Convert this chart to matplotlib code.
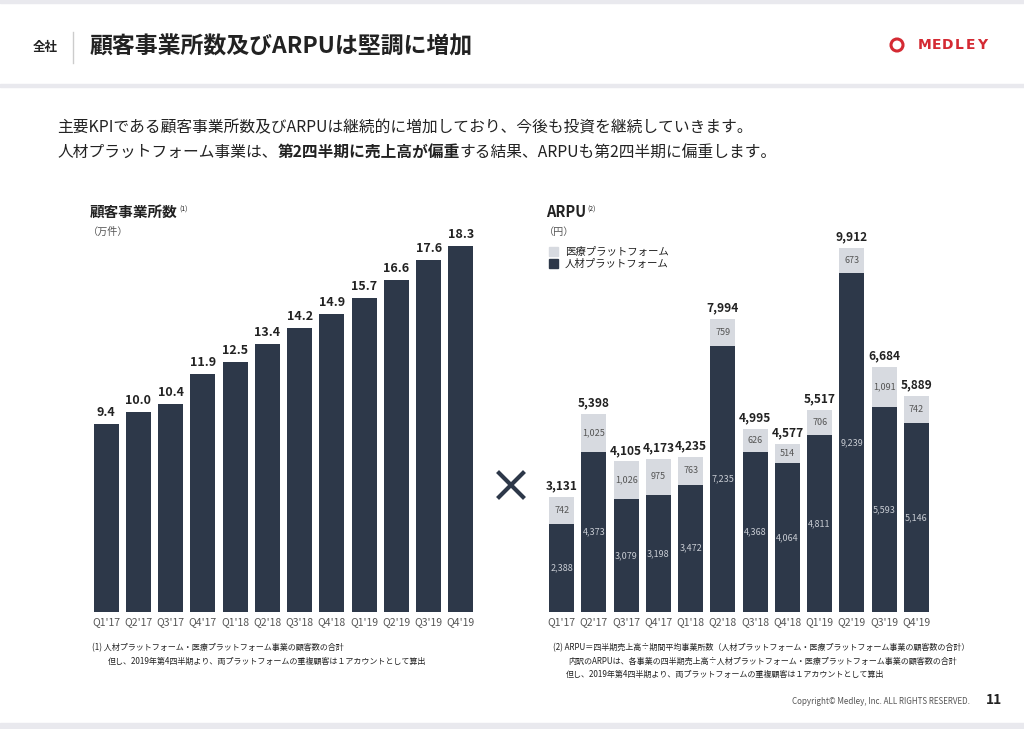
import numpy as np
import matplotlib
matplotlib.use("Agg")
import matplotlib.pyplot as plt
from matplotlib.patches import Rectangle, Ellipse
from matplotlib.lines import Line2D

plt.rcParams['font.family'] = ['Noto Sans CJK JP', 'DejaVu Sans']

# データ
quarters = ["Q1'17", "Q2'17", "Q3'17", "Q4'17", "Q1'18", "Q2'18",
            "Q3'18", "Q4'18", "Q1'19", "Q2'19", "Q3'19", "Q4'19"]
offices = [9.4, 10.0, 10.4, 11.9, 12.5, 13.4, 14.2, 14.9, 15.7, 16.6, 17.6, 18.3]  # 万件
arpu_jinzai = [2388, 4373, 3079, 3198, 3472, 7235, 4368, 4064, 4811, 9239, 5593, 5146]
arpu_iryo = [742, 1025, 1026, 975, 763, 759, 626, 514, 706, 673, 1091, 742]
arpu_total = [3131, 5398, 4105, 4173, 4235, 7994, 4995, 4577, 5517, 9912, 6684, 5889]

navy = '#2d3849'
light = '#d7dae0'
txt = '#222222'
gray_txt = '#555555'
red = '#d42a33'

W, H = 1024, 729
fx = lambda x: x / W
fy = lambda y: 1 - y / H

fig = plt.figure(figsize=(10.24, 7.29), dpi=100)
fig.patch.set_facecolor('white')

# 枠・帯
fig.patches.append(Rectangle((0, fy(3)), 1, 3 / H, transform=fig.transFigure, color='#e9e9ee', zorder=0))
fig.patches.append(Rectangle((0, fy(87)), 1, 3 / H, transform=fig.transFigure, color='#e9e9ee', zorder=0))
fig.patches.append(Rectangle((0, 0), 1, 6 / H, transform=fig.transFigure, color='#e9e9ee', zorder=0))

# ヘッダー
fig.text(fx(33), fy(47), "全社", fontsize=9, fontweight='bold', color=txt, va='center')
fig.add_artist(Line2D([fx(73), fx(73)], [fy(32), fy(63)], color='#cccccc', lw=1))
fig.text(fx(90), fy(47), "顧客事業所数及びARPUは堅調に増加", fontsize=16.5, fontweight='bold',
         color=txt, va='center')
fig.add_artist(Ellipse((fx(897), fy(45)), 12 / W, 12 / H, transform=fig.transFigure,
                       fill=False, edgecolor=red, lw=2.2))
for i, ch in enumerate("MEDLEY"):
    fig.text(fx(925 + i * 11.4), fy(45), ch, fontsize=10, fontweight='bold', color=red,
             ha='center', va='center', family='DejaVu Sans')

# 本文
fig.text(fx(57), fy(128), "主要KPIである顧客事業所数及びARPUは継続的に増加しており、今後も投資を継続していきます。",
         fontsize=11.3, color=txt, va='center')
t1 = fig.text(fx(57), fy(152), "人材プラットフォーム事業は、", fontsize=11.3, color=txt, va='center')
t2 = fig.text(0, 0, "第2四半期に売上高が偏重", fontsize=11.3, fontweight='bold', color=txt)
t3 = fig.text(0, 0, "する結果、ARPUも第2四半期に偏重します。", fontsize=11.3, color=txt)
fig.canvas.draw()
r = fig.canvas.get_renderer()
bb = t1.get_window_extent(r)
t2.set_position((bb.x1 / W, fy(152)))
t2.set_va('center')
bb2 = t2.get_window_extent(r)
t3.set_position((bb2.x1 / W, fy(152)))
t3.set_va('center')

# 左グラフ
ax1 = fig.add_axes([fx(90), fy(612), 387 / W, 400 / H])
x = np.arange(len(quarters))
ax1.bar(x, offices, width=0.78, color=navy)
for xi, v in zip(x, offices):
    ax1.text(xi, v + 0.25, f"{v:.1f}", ha='center', va='bottom', fontsize=9,
             fontweight='bold', color=txt)
ax1.set_ylim(0, 20)
ax1.set_xlim(-0.5, 11.5)

# 右グラフ
ax2 = fig.add_axes([fx(545.5), fy(612), 387 / W, 400 / H])
ax2.bar(x, arpu_jinzai, width=0.78, color=navy)
ax2.bar(x, arpu_iryo, width=0.78, bottom=arpu_jinzai, color=light)
for xi, a, b, t in zip(x, arpu_jinzai, arpu_iryo, arpu_total):
    ax2.text(xi, a / 2, f"{a:,}", ha='center', va='center', fontsize=6.5, color='#c8ccd3')
    ax2.text(xi, a + b / 2, f"{b:,}", ha='center', va='center', fontsize=6.5, color=gray_txt)
    ax2.text(xi, a + b + 120, f"{t:,}", ha='center', va='bottom', fontsize=8.6,
             fontweight='bold', color=txt)
ax2.set_ylim(0, 400 / 0.0367)
ax2.set_xlim(-0.5, 11.5)

for ax in (ax1, ax2):
    ax.set_xticks(x)
    ax.set_xticklabels(quarters, fontsize=7.5, color=gray_txt)
    ax.tick_params(axis='x', length=0, pad=4)
    ax.set_yticks([])
    for s in ax.spines.values():
        s.set_visible(False)
    ax.patch.set_alpha(0)

# グラフ見出し
h1 = fig.text(fx(90), fy(212), "顧客事業所数", fontsize=10.5, fontweight='bold', color=txt, va='center')
plt.annotate("(1)", xy=(1, 1), xycoords=h1, xytext=(1, -1), textcoords='offset points',
             fontsize=5, color=txt, va='top', ha='left')
fig.text(fx(88), fy(232), "（万件）", fontsize=7.3, color=gray_txt, va='center')
h2 = fig.text(fx(546), fy(212), "ARPU", fontsize=10.5, fontweight='bold', color=txt, va='center')
plt.annotate("(2)", xy=(1, 1), xycoords=h2, xytext=(1, -1), textcoords='offset points',
             fontsize=5, color=txt, va='top', ha='left')
fig.text(fx(544), fy(232), "（円）", fontsize=7.3, color=gray_txt, va='center')

# 凡例
fig.patches.append(Rectangle((fx(549), fy(256)), 9 / W, 9 / H, transform=fig.transFigure, color=light))
fig.patches.append(Rectangle((fx(549), fy(268)), 9 / W, 9 / H, transform=fig.transFigure, color=navy))
fig.text(fx(565), fy(251.5), "医療プラットフォーム", fontsize=7.5, color=txt, va='center')
fig.text(fx(565), fy(263.5), "人材プラットフォーム", fontsize=7.5, color=txt, va='center')

# ×
fig.add_artist(Line2D([fx(499), fx(523)], [fy(473), fy(497)], color=navy, lw=3))
fig.add_artist(Line2D([fx(499), fx(523)], [fy(497), fy(473)], color=navy, lw=3))

# 注記
fn = 5.8
fig.text(fx(92), fy(648), "(1) 人材プラットフォーム・医療プラットフォーム事業の顧客数の合計",
         fontsize=fn, color=txt, va='center')
fig.text(fx(108), fy(661), "但し、2019年第4四半期より、両プラットフォームの重複顧客は１アカウントとして算出",
         fontsize=fn, color=txt, va='center')
fig.text(fx(553), fy(648), "(2) ARPU＝四半期売上高÷期間平均事業所数（人材プラットフォーム・医療プラットフォーム事業の顧客数の合計）",
         fontsize=fn, color=txt, va='center')
fig.text(fx(568), fy(661), "内訳のARPUは、各事業の四半期売上高÷人材プラットフォーム・医療プラットフォーム事業の顧客数の合計",
         fontsize=fn, color=txt, va='center')
fig.text(fx(566), fy(674), "但し、2019年第4四半期より、両プラットフォームの重複顧客は１アカウントとして算出",
         fontsize=fn, color=txt, va='center')

# フッター
fig.text(fx(970), fy(701), "Copyright© Medley, Inc. ALL RIGHTS RESERVED.", fontsize=5.8,
         color=gray_txt, ha='right', va='center')
fig.text(fx(986), fy(700), "11", fontsize=10, fontweight='bold', color=txt, va='center')

fig.savefig("out.png", dpi=100)
